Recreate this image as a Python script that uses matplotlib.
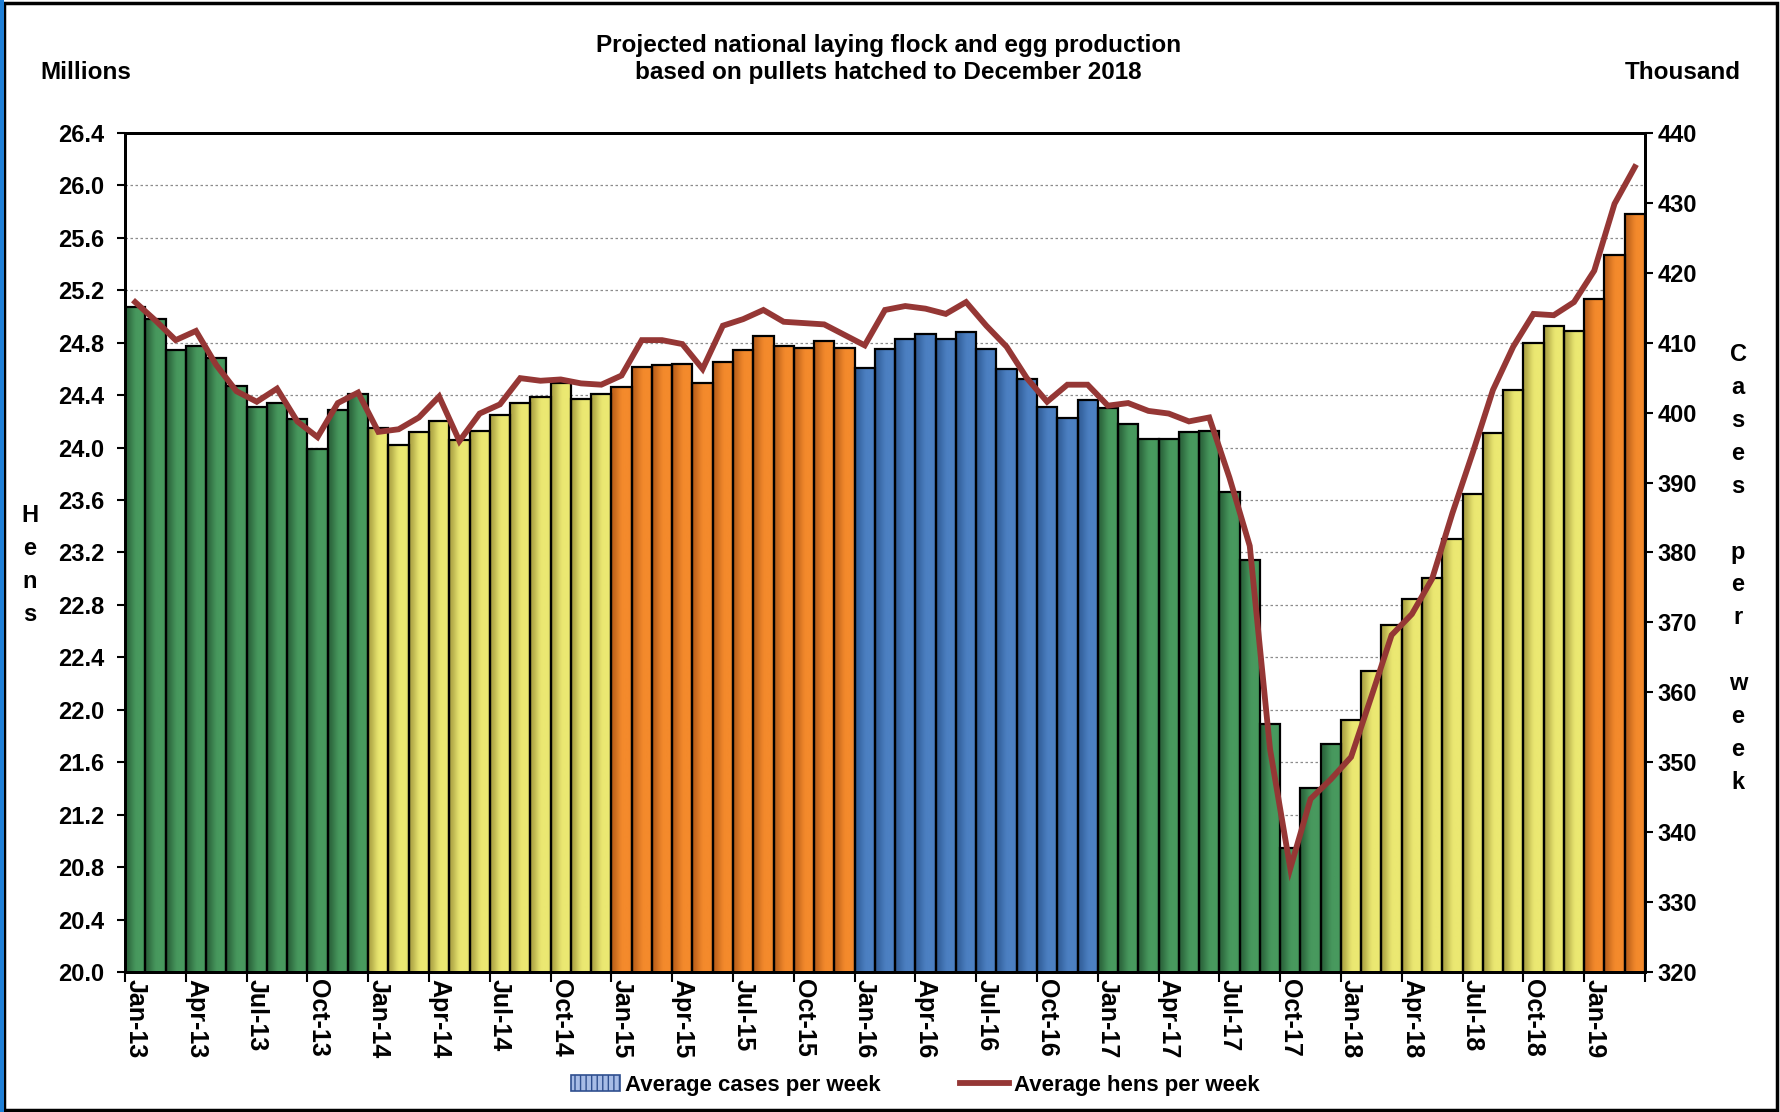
import numpy as np
import matplotlib
matplotlib.use("Agg")
import matplotlib.pyplot as plt
import matplotlib.ticker as ticker
from matplotlib.patches import Patch, Rectangle
from matplotlib.lines import Line2D

plt.rcParams["font.family"] = ["Liberation Sans", "DejaVu Sans"]
plt.rcParams["font.weight"] = "bold"

# --- data ---
YEARS = [13, 14, 15, 16, 17, 18, 19]
MONTHS = ["Jan", "Feb", "Mar", "Apr", "May", "Jun",
          "Jul", "Aug", "Sep", "Oct", "Nov", "Dec"]
N_MONTHS = 75  # Jan-13 .. Mar-19

# average cases per week (thousand), right axis
cases = [
    415.1, 413.4, 408.9, 409.6, 407.8, 403.8, 400.8, 401.4, 399.1, 394.8, 400.4, 402.7,  # 2013
    397.8, 395.4, 397.3, 398.8, 396.1, 397.4, 399.7, 401.4, 402.3, 404.2, 401.9, 402.7,  # 2014
    403.6, 406.6, 406.8, 407.0, 404.2, 407.2, 408.9, 410.9, 409.6, 409.3, 410.2, 409.3,  # 2015
    406.4, 409.1, 410.6, 411.3, 410.6, 411.5, 409.1, 406.3, 404.8, 400.8, 399.3, 401.8,  # 2016
    400.6, 398.4, 396.3, 396.3, 397.3, 397.4, 388.6, 378.9, 355.4, 337.8, 346.3, 352.6,  # 2017
    356.0, 363.1, 369.7, 373.4, 376.4, 381.9, 388.3, 397.1, 403.3, 410.0, 412.4, 411.7,  # 2018
    416.2, 422.6, 428.4,                                                                 # 2019
]

# average hens per week (millions), left axis
hens = [
    25.11, 24.97, 24.82, 24.89, 24.63, 24.43, 24.35, 24.45, 24.20, 24.08, 24.34, 24.42,
    24.12, 24.14, 24.23, 24.39, 24.05, 24.26, 24.33, 24.53, 24.51, 24.52, 24.49, 24.48,
    24.55, 24.82, 24.82, 24.79, 24.60, 24.93, 24.98, 25.05, 24.96, 24.95, 24.94, 24.86,
    24.78, 25.05, 25.08, 25.06, 25.02, 25.11, 24.93, 24.77, 24.53, 24.35, 24.48, 24.48,
    24.32, 24.34, 24.28, 24.26, 24.20, 24.23, 23.77, 23.25, 21.70, 20.79, 21.32, 21.47,
    21.64, 22.10, 22.57, 22.73, 23.00, 23.50, 23.96, 24.44, 24.77, 25.02, 25.01, 25.11,
    25.35, 25.86, 26.14,
]

labels = [f"{m}-{y}" for y in YEARS for m in MONTHS][:N_MONTHS]
bar_years = [y for y in YEARS for _ in MONTHS][:N_MONTHS]

# bright / dark shade per year group
YEAR_COLORS = {
    13: ("#48995e", "#2c653c"),
    14: ("#ebe872", "#aea545"),
    15: ("#f48a2c", "#bd611b"),
    16: ("#4c80c2", "#33609b"),
    17: ("#48995e", "#2c653c"),
    18: ("#ebe872", "#aea545"),
    19: ("#f48a2c", "#bd611b"),
}

HENS_LIM = (20.0, 26.4)
CASES_LIM = (320, 440)
LINE_COLOR = "#953735"


def gradient(bright, dark, n=40):
    b = np.array(matplotlib.colors.to_rgb(bright))
    d = np.array(matplotlib.colors.to_rgb(dark))
    t = np.linspace(0, 1, n)
    w = np.clip(t / 0.6, 0, 1)
    w = w * w * (3 - 2 * w)
    w = np.where(t > 0.85, w - (t - 0.85) * 1.2, w)
    rgb = d[None, :] + (b - d)[None, :] * w[:, None]
    return rgb[None, :, :]


fig = plt.figure(figsize=(17.81, 11.12), dpi=100)
ax = fig.add_axes([0.0702, 0.1259, 0.8534, 0.7545])   # hens scale + grid
ax_c = ax.twinx()                                     # cases bars
ax_l = ax.twinx()                                     # hens line on top

x = np.arange(N_MONTHS)

# bars with horizontal gradient
for xi, v, yr in zip(x, cases, bar_years):
    bright, dark = YEAR_COLORS[yr]
    ax_c.imshow(gradient(bright, dark), extent=(xi - 0.5, xi + 0.5, CASES_LIM[0], v),
                aspect="auto", interpolation="bilinear", zorder=2)
ax_c.bar(x, cases, width=1.0, fill=False, edgecolor="black", linewidth=1.6, zorder=3)

ax_l.plot(x, hens, color=LINE_COLOR, linewidth=4.2, solid_joinstyle="miter", zorder=4)

for a in (ax, ax_c, ax_l):
    a.set_xlim(-0.5, N_MONTHS - 0.5)
ax.set_ylim(*HENS_LIM)
ax_l.set_ylim(*HENS_LIM)
ax_c.set_ylim(*CASES_LIM)

# left axis
ax.set_yticks(np.arange(HENS_LIM[0], HENS_LIM[1] + 0.01, 0.4))
ax.yaxis.set_major_formatter(ticker.FormatStrFormatter("%.1f"))
ax.grid(axis="y", linestyle=(0, (2, 2)), color="#8c8c8c", linewidth=0.9)
ax.set_axisbelow(True)
ax.tick_params(axis="y", direction="out", length=6, width=1.5, labelsize=17, pad=9)

# right axis
ax_c.set_yticks(np.arange(CASES_LIM[0], CASES_LIM[1] + 1, 10))
ax_c.tick_params(axis="y", direction="out", length=6, width=1.5, labelsize=17, pad=3)
ax_l.yaxis.set_visible(False)

# x axis: labels on bar centres, tick marks on bar boundaries
ax.set_xticks(x[::3])
ax.set_xticklabels(labels[::3], rotation=270, fontsize=18)
ax.set_xticks(np.arange(-0.5, N_MONTHS, 3), minor=True)
ax.tick_params(axis="x", which="major", length=0, pad=5)
ax.tick_params(axis="x", which="minor", direction="out", length=7, width=1.5)

for a in (ax, ax_c, ax_l):
    for s in a.spines.values():
        s.set_linewidth(2.0)
        s.set_color("black")

# titles / labels
fig.text(0.499, 0.947, "Projected national laying flock and egg production\n"
         "based on pullets hatched to December 2018",
         ha="center", va="center", fontsize=17.5, fontweight="bold", linespacing=1.2)
fig.text(0.0225, 0.935, "Millions", ha="left", va="center", fontsize=17.5, fontweight="bold")
fig.text(0.9775, 0.935, "Thousand", ha="right", va="center", fontsize=17.5, fontweight="bold")
fig.text(0.0168, 0.492, "\n".join("Hens"), ha="center", va="center",
         fontsize=17, fontweight="bold", linespacing=1.55)
fig.text(0.9759, 0.4888, "\n".join("Cases per week").replace(" ", ""),
         ha="center", va="center", fontsize=17, fontweight="bold", linespacing=1.55)

# legend
handles = [
    Patch(facecolor="#a7bce6", edgecolor="#2f4f8f", hatch="|||", linewidth=1.2),
    Line2D([0], [0], color=LINE_COLOR, linewidth=4.2),
]
fig.legend(handles, ["Average cases per week", "Average hens per week"],
           loc="center", bbox_to_anchor=(0.514, 0.024), ncol=2, frameon=False,
           handlelength=2.2, handletextpad=0.2, columnspacing=3.6,
           prop={"weight": "bold", "size": 16})

# figure frame
fig.patches.append(Rectangle((0.002, 0.002), 0.996, 0.995, transform=fig.transFigure,
                             fill=False, edgecolor="black", linewidth=2.5))
fig.patches.append(Rectangle((0, 0), 0.0025, 1, transform=fig.transFigure,
                             facecolor="#1f7fd6", edgecolor="none"))

fig.savefig("out.png", dpi=100)
